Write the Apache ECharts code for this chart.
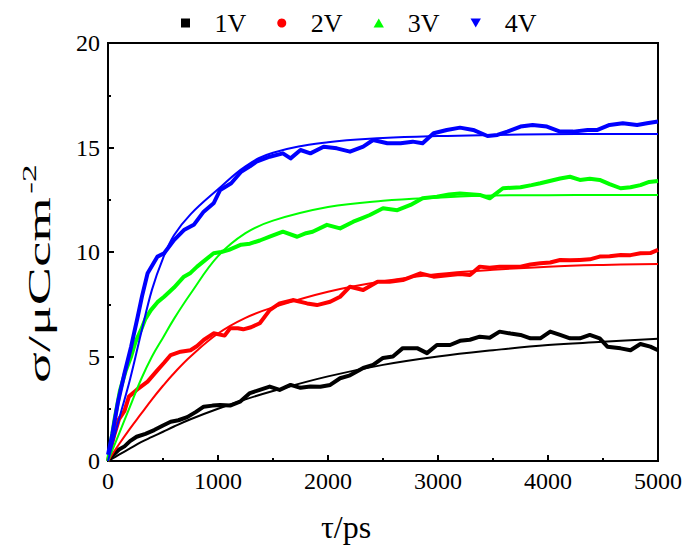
<!DOCTYPE html>
<html>
<head>
<meta charset="utf-8">
<script src="https://cdn.jsdelivr.net/npm/echarts@6/dist/echarts.min.js"></script>
<style>
html,body{margin:0;padding:0;background:#fff;}
#chart{width:691px;height:552px;}
</style>
</head>
<body>
<div id="chart"></div>
<script>
// ---- Data ----
const seriesNames = ['1V', '2V', '3V', '4V'];
const seriesColors = ['#000000', '#ff0000', '#00ff00', '#0000ff'];

// Simulated data (noisy traces), time in ps
const t1V = [0,50,100,150,200,260,340,420,500,570,640,720,800,870,950,1020,1110,1200,1290,1380,1470,1560,1660,1750,1840,1930,2020,2110,2200,2320,2410,2500,2590,2680,2810,2900,2990,3110,3200,3290,3380,3470,3560,3660,3750,3840,3930,4020,4110,4200,4290,4380,4470,4540,4660,4750,4840,4930,5000];
const s1V = [0,0.3,0.55,0.7,0.95,1.16,1.3,1.48,1.7,1.88,1.95,2.1,2.35,2.6,2.65,2.68,2.65,2.84,3.25,3.4,3.56,3.4,3.64,3.5,3.56,3.55,3.64,3.96,4.1,4.45,4.6,4.93,5.0,5.4,5.4,5.16,5.55,5.55,5.75,5.8,5.95,5.9,6.19,6.1,6.03,5.87,5.87,6.19,6.03,5.87,5.87,6.03,5.87,5.47,5.39,5.3,5.6,5.47,5.3];

const t2V = [0,30,60,100,150,190,260,360,450,510,570,660,750,810,870,960,1060,1110,1180,1230,1300,1380,1470,1560,1680,1810,1900,2020,2110,2200,2320,2450,2560,2680,2840,2960,3110,3200,3290,3380,3470,3560,3660,3750,3840,3930,4020,4110,4200,4290,4380,4470,4560,4660,4750,4840,4930,5000];
const s2V = [0,0.7,1.3,2.0,2.4,3.08,3.4,3.8,4.35,4.7,5.07,5.23,5.3,5.5,5.79,6.11,6.0,6.35,6.35,6.3,6.4,6.59,7.22,7.54,7.7,7.54,7.46,7.62,7.86,8.34,8.18,8.58,8.58,8.66,8.98,8.82,8.9,8.95,8.9,9.3,9.25,9.3,9.3,9.3,9.4,9.46,9.5,9.62,9.6,9.62,9.65,9.78,9.8,9.86,9.85,9.94,9.95,10.1];

const t3V = [0,30,60,110,160,210,250,300,340,390,450,510,600,690,750,810,880,960,1030,1100,1210,1290,1380,1470,1590,1720,1800,1860,1990,2110,2230,2300,2380,2500,2630,2750,2860,2990,3100,3200,3380,3470,3590,3750,3850,3930,4110,4200,4290,4380,4470,4560,4660,4750,4840,4920,5000];
const s3V = [0,1.0,2.0,3.4,4.3,5.0,5.7,6.27,6.8,7.22,7.6,7.86,8.3,8.82,9.0,9.3,9.6,9.94,10.0,10.1,10.35,10.4,10.55,10.73,10.97,10.73,10.9,10.97,11.3,11.13,11.45,11.6,11.77,12.09,12.0,12.25,12.57,12.65,12.75,12.8,12.73,12.57,13.05,13.1,13.2,13.29,13.52,13.6,13.45,13.5,13.45,13.25,13.05,13.1,13.2,13.35,13.4];

const t4V = [0,40,90,150,210,270,310,360,450,510,600,690,780,870,960,1020,1120,1210,1290,1350,1470,1590,1660,1750,1840,1960,2080,2200,2320,2410,2540,2660,2770,2860,2960,3080,3200,3320,3450,3540,3630,3750,3860,3990,4110,4230,4360,4450,4560,4680,4810,4900,5000];
const s4V = [0.3,1.3,2.8,4.2,5.47,6.9,7.9,8.98,9.78,9.94,10.57,11.05,11.3,11.93,12.33,12.97,13.29,13.84,14.1,14.32,14.56,14.72,14.48,14.88,14.72,15.04,14.96,14.8,15.04,15.36,15.2,15.2,15.28,15.2,15.68,15.84,15.95,15.84,15.55,15.6,15.76,16.0,16.08,16.0,15.76,15.76,15.84,15.84,16.08,16.16,16.08,16.16,16.24];

// Fitted curves, read at these times
const tFit = [0,100,200,300,400,500,600,750,1000,1250,1500,2000,2500,3000,3500,4000,4500,5000];
const fit1V = [0,0.3,0.6,0.9,1.15,1.4,1.65,2.0,2.5,2.95,3.35,4.05,4.6,5.0,5.3,5.55,5.7,5.85];
const fit2V = [0,0.8,1.55,2.25,2.95,3.6,4.2,5.0,6.1,6.85,7.35,8.1,8.6,8.95,9.15,9.3,9.38,9.42];
const fit3V = [0,1.3,2.6,3.9,5.0,5.9,6.8,8.0,9.8,10.9,11.5,12.15,12.45,12.6,12.7,12.72,12.73,12.73];
const fit4V = [0,2.0,3.9,6.1,8.2,9.7,10.8,11.8,13.0,14.1,14.75,15.25,15.45,15.55,15.6,15.63,15.65,15.65];

// Axis ticks and titles
const xMin = 0, xMax = 5000, xStep = 1000;
const yMin = 0, yMax = 20, yStep = 5;
const xTitle = 'τ/ps';
const yTitleMain = 'σ/μCcm';
const yTitleSup = '-2';

// ---- Build chart ----
const pair = (ts, vs) => ts.map((t, i) => [t, vs[i]]);
const dataT = [t1V, t2V, t3V, t4V];
const dataS = [s1V, s2V, s3V, s4V];
const fits = [fit1V, fit2V, fit3V, fit4V];
const icons = [
  'path://M0,0 L10,0 L10,10 L0,10 Z',
  'circle',
  'path://M5,0 L10,8.66 L0,8.66 Z',
  'path://M0,0 L10,0 L5,8.66 Z'
];
const FONT = 'Liberation Serif';

const series = [];
seriesNames.forEach((n, i) => {
  series.push({
    name: n, type: 'line', data: pair(dataT[i], dataS[i]),
    showSymbol: false, symbol: 'none',
    lineStyle: { color: seriesColors[i], width: 4, join: 'round' },
    itemStyle: { color: seriesColors[i] }, z: 2
  });
});
seriesNames.forEach((n, i) => {
  series.push({
    name: 'fit ' + n, type: 'line', data: pair(tFit, fits[i]),
    smooth: 0.4, showSymbol: false, symbol: 'none',
    lineStyle: { color: seriesColors[i], width: 2 },
    itemStyle: { color: seriesColors[i] }, z: 3
  });
});

const chart = echarts.init(document.getElementById('chart'), null, { renderer: 'svg' });
chart.setOption({
  animation: false,
  backgroundColor: '#fff',
  grid: { left: 108, right: 33, top: 43, bottom: 91, show: true, borderColor: '#000', borderWidth: 2, backgroundColor: 'transparent' },
  legend: {
    left: 176, top: 5,
    itemWidth: 48, itemHeight: 9, itemGap: 31,
    symbolKeepAspect: true,
    data: seriesNames.map((n, i) => ({ name: n, icon: icons[i] })),
    textStyle: { fontFamily: FONT, fontSize: 26, color: '#000' }
  },
  xAxis: {
    type: 'value', min: xMin, max: xMax, interval: xStep,
    axisLine: { lineStyle: { color: '#000', width: 2 } },
    axisTick: { inside: true, length: 6, lineStyle: { color: '#000', width: 2 } },
    minorTick: { show: true, splitNumber: 2, length: 3, lineStyle: { color: '#000', width: 2 } },
    splitLine: { show: false },
    axisLabel: { fontFamily: FONT, fontSize: 24, color: '#000', margin: 8, formatter: v => String(v) }
  },
  yAxis: {
    type: 'value', min: yMin, max: yMax, interval: yStep,
    axisLine: { lineStyle: { color: '#000', width: 2 } },
    axisTick: { inside: true, length: 6, lineStyle: { color: '#000', width: 2 } },
    minorTick: { show: true, splitNumber: 2, length: 3, lineStyle: { color: '#000', width: 2 } },
    splitLine: { show: false },
    axisLabel: { fontFamily: FONT, fontSize: 24, color: '#000', margin: 8, formatter: v => String(v) }
  },
  graphic: [
    {
      type: 'text', x: 346, y: 527,
      style: { text: xTitle, fontFamily: FONT, fontSize: 32, fill: '#000', align: 'center', verticalAlign: 'middle' }
    },
    {
      type: 'text', x: 40, y: 290, rotation: Math.PI / 2, scaleX: 1.85,
      style: { text: yTitleMain, fontFamily: FONT, fontSize: 31, fill: '#000', align: 'center', verticalAlign: 'middle' }
    },
    {
      type: 'text', x: 30, y: 179, rotation: Math.PI / 2, scaleX: 1.85,
      style: { text: yTitleSup, fontFamily: FONT, fontSize: 19, fill: '#000', align: 'center', verticalAlign: 'middle' }
    }
  ],
  series: series
});
</script>
</body>
</html>
